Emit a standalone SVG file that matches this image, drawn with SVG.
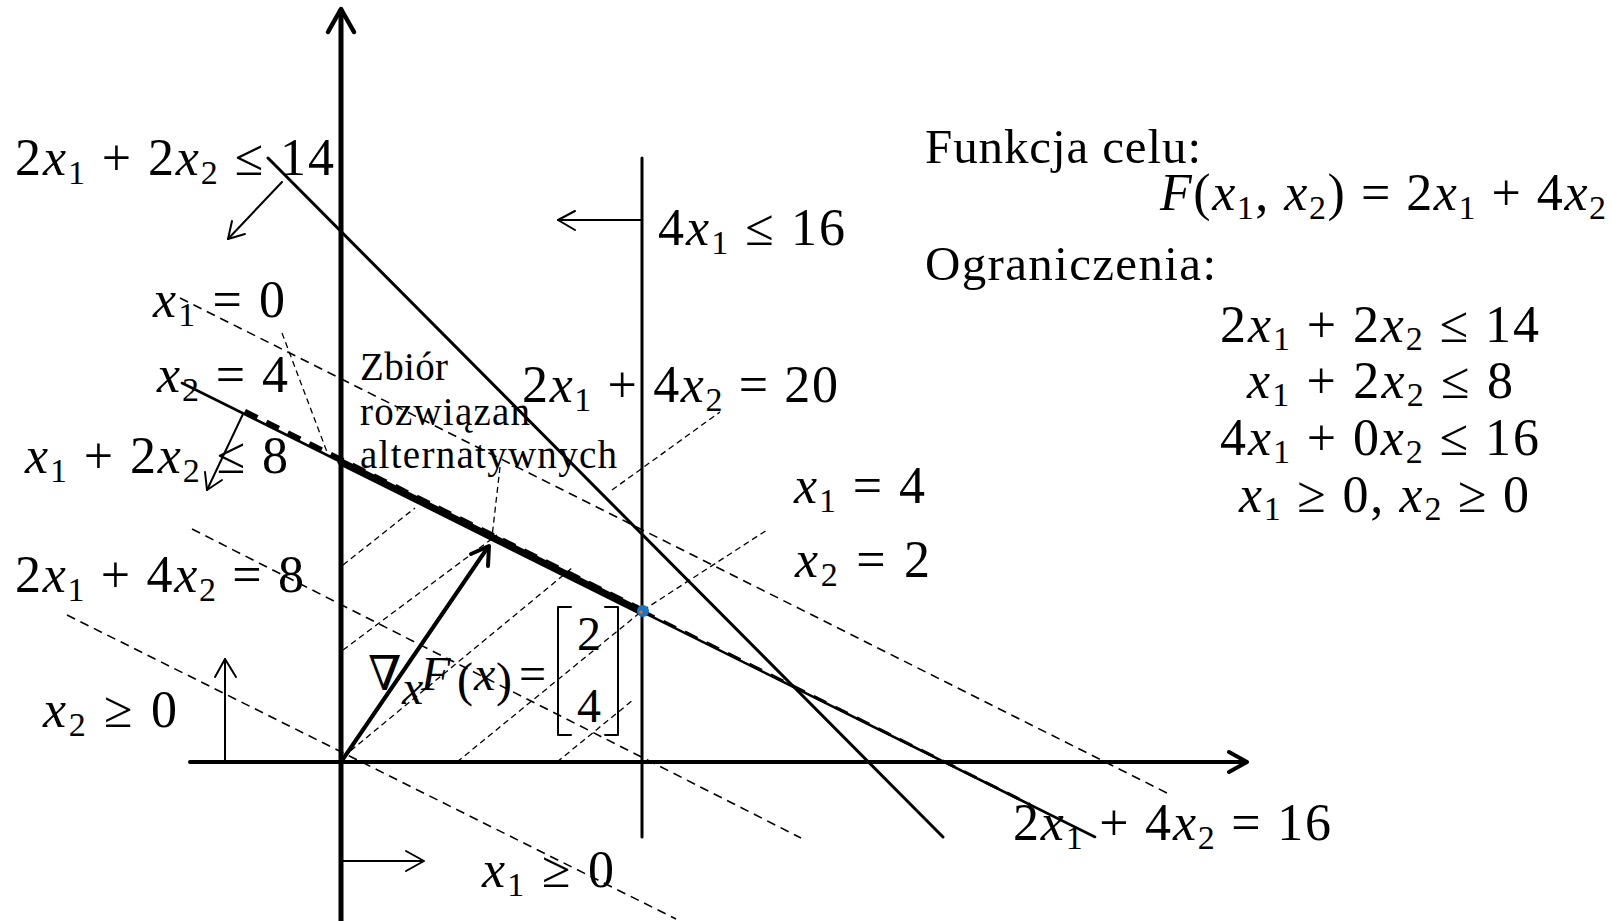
<svg xmlns="http://www.w3.org/2000/svg" width="1612" height="921" viewBox="0 0 1612 921">
<style>
.bg{fill:#fff}
.ln{stroke:#000;fill:none;stroke-linecap:round;stroke-linejoin:round}
.dl{stroke:#000;fill:none;stroke-width:1.6;stroke-dasharray:9 6}
.dh{stroke:#000;fill:none;stroke-width:1.3;stroke-dasharray:6 4}
.m{font-family:"Liberation Serif","DejaVu Serif",serif;font-size:52px;fill:#000}
.t{font-family:"Liberation Serif","DejaVu Serif",serif;font-size:49px;fill:#000}
.t2{font-family:"Liberation Serif","DejaVu Serif",serif;font-size:39px;fill:#000}
.g{font-family:"Liberation Serif","DejaVu Serif",serif;font-size:48px;fill:#000}
.v{font-style:italic}
.s{font-size:34px}
</style>
<rect class="bg" x="0" y="0" width="1612" height="921"/>

<g id="level-lines">
  <line class="dl" x1="180" y1="298" x2="1171" y2="795"/>
  <line class="dl" x1="192" y1="529" x2="801" y2="838"/>
  <line class="dl" x1="67" y1="615" x2="676" y2="919"/>
</g>

<g id="hatching">
  <line class="dh" x1="343" y1="565" x2="415" y2="508"/>
  <line class="dh" x1="343" y1="650" x2="497" y2="535"/>
  <line class="dh" x1="343" y1="757" x2="572" y2="568"/>
  <polyline class="dh" points="457,762 642,611 767,530"/>
  <line class="dh" x1="557" y1="762" x2="633" y2="700"/>
  <line class="dh" x1="612" y1="490" x2="720" y2="412"/>
  <line class="dh" x1="282" y1="333" x2="327" y2="452"/>
  <line class="dh" x1="500" y1="467" x2="492" y2="537"/>
</g>

<g id="constraints">
  <line class="ln" x1="268" y1="158" x2="943" y2="837" stroke-width="3"/>
  <line class="ln" x1="182" y1="383" x2="1095" y2="837" stroke-width="2.6"/>
  <line class="ln" x1="642" y1="158" x2="642" y2="837" stroke-width="3" stroke-linecap="butt"/>
  <line class="ln" x1="341" y1="462" x2="642" y2="612" stroke-width="7"/>
  <line x1="245" y1="411" x2="642" y2="609.5" stroke="#000" stroke-width="4.5" stroke-dasharray="14 10"/>
  <line x1="642" y1="610.5" x2="1030" y2="804.5" stroke="#000" stroke-width="3" stroke-dasharray="14 10"/>
</g>

<g id="axes">
  <line class="ln" x1="341" y1="10" x2="341" y2="921" stroke-width="5" stroke-linecap="butt"/>
  <polyline class="ln" points="328,32 341,9 354,32" stroke-width="4.5"/>
  <line class="ln" x1="190" y1="762" x2="1246" y2="762" stroke-width="4" stroke-linecap="butt"/>
  <polyline class="ln" points="1229,752 1247,762 1229,772" stroke-width="4"/>
</g>

<g id="arrows">
  <line class="ln" x1="642" y1="220" x2="558" y2="220" stroke-width="2"/>
  <polyline class="ln" points="575,211 558,220 575,230" stroke-width="2"/>
  <line class="ln" x1="282" y1="182" x2="228" y2="239" stroke-width="2"/>
  <polyline class="ln" points="245,234 228,239 232,221" stroke-width="2"/>
  <line class="ln" x1="243" y1="414" x2="207" y2="490" stroke-width="2"/>
  <polyline class="ln" points="222,480 207,490 205,472" stroke-width="2"/>
  <line class="ln" x1="225" y1="762" x2="225" y2="659" stroke-width="2"/>
  <polyline class="ln" points="215,677 225,659 236,677" stroke-width="2"/>
  <line class="ln" x1="341" y1="861" x2="423" y2="861" stroke-width="2"/>
  <polyline class="ln" points="406,851 424,861 406,871" stroke-width="2"/>
  <line class="ln" x1="341" y1="762" x2="488" y2="547" stroke-width="4"/>
  <polyline class="ln" points="471,554 489,546 488,566" stroke-width="4"/>
</g>

<g id="optimum">
  <circle cx="643" cy="611" r="6" fill="#1a75c9"/>
  <circle cx="641" cy="612" r="1.8" fill="#e07020"/>
</g>

<g id="labels">
  <text class="m" x="15" y="175" textLength="319">2<tspan class="v">x</tspan><tspan class="s" dy="9">1</tspan><tspan dy="-9"> + 2</tspan><tspan class="v">x</tspan><tspan class="s" dy="9">2</tspan><tspan dy="-9"> ≤ 14</tspan></text>
  <text class="m" x="658" y="245" textLength="187">4<tspan class="v">x</tspan><tspan class="s" dy="9">1</tspan><tspan dy="-9"> ≤ 16</tspan></text>
  <text class="m" x="153" y="317" textLength="132"><tspan class="v">x</tspan><tspan class="s" dy="9">1</tspan><tspan dy="-9"> = 0</tspan></text>
  <text class="m" x="157" y="392" textLength="131"><tspan class="v">x</tspan><tspan class="s" dy="9">2</tspan><tspan dy="-9"> = 4</tspan></text>
  <text class="m" x="25" y="473" textLength="263"><tspan class="v">x</tspan><tspan class="s" dy="9">1</tspan><tspan dy="-9"> + 2</tspan><tspan class="v">x</tspan><tspan class="s" dy="9">2</tspan><tspan dy="-9"> ≤ 8</tspan></text>
  <text class="m" x="15" y="592" textLength="289">2<tspan class="v">x</tspan><tspan class="s" dy="9">1</tspan><tspan dy="-9"> + 4</tspan><tspan class="v">x</tspan><tspan class="s" dy="9">2</tspan><tspan dy="-9"> = 8</tspan></text>
  <text class="m" x="43" y="727" textLength="134"><tspan class="v">x</tspan><tspan class="s" dy="9">2</tspan><tspan dy="-9"> ≥ 0</tspan></text>
  <text class="m" x="482" y="887" textLength="132"><tspan class="v">x</tspan><tspan class="s" dy="9">1</tspan><tspan dy="-9"> ≥ 0</tspan></text>
  <text class="m" x="522" y="402" textLength="316">2<tspan class="v">x</tspan><tspan class="s" dy="9">1</tspan><tspan dy="-9"> + 4</tspan><tspan class="v">x</tspan><tspan class="s" dy="9">2</tspan><tspan dy="-9"> = 20</tspan></text>
  <text class="m" x="794" y="503" textLength="131"><tspan class="v">x</tspan><tspan class="s" dy="9">1</tspan><tspan dy="-9"> = 4</tspan></text>
  <text class="m" x="795" y="577" textLength="135"><tspan class="v">x</tspan><tspan class="s" dy="9">2</tspan><tspan dy="-9"> = 2</tspan></text>
  <text class="m" x="1013" y="840" textLength="318">2<tspan class="v">x</tspan><tspan class="s" dy="9">1</tspan><tspan dy="-9"> + 4</tspan><tspan class="v">x</tspan><tspan class="s" dy="9">2</tspan><tspan dy="-9"> = 16</tspan></text>

  <text class="t2" x="360" y="380" textLength="88">Zbiór</text>
  <text class="t2" x="360" y="425" textLength="170">rozwiązan</text>
  <text class="t2" x="360" y="468" textLength="257">alternatywnych</text>
</g>

<g id="gradient-label">
  <text class="g" x="368" y="690" font-size="46">∇</text>
  <text class="g v" x="402" y="704" font-size="28">x</text>
  <text class="g v" x="421" y="690">F</text>
  <text class="g" x="457" y="696" font-size="66">(</text>
  <text class="g v" x="474" y="690">x</text>
  <text class="g" x="496" y="696" font-size="66">)</text>
  <text class="g" x="519" y="690">=</text>
  <path class="ln" d="M571,607 H558 V735 H571 M605,607 H618 V735 H605" stroke-width="2" stroke-linecap="butt" stroke-linejoin="miter"/>
  <text class="g" x="577" y="650" font-size="52">2</text>
  <text class="g" x="577" y="722" font-size="52">4</text>
</g>

<g id="problem">
  <text class="t" x="925" y="163" textLength="276">Funkcja celu:</text>
  <text class="m" x="1160" y="210" textLength="446"><tspan class="v">F</tspan>(<tspan class="v">x</tspan><tspan class="s" dy="9">1</tspan><tspan dy="-9">, </tspan><tspan class="v">x</tspan><tspan class="s" dy="9">2</tspan><tspan dy="-9">) = 2</tspan><tspan class="v">x</tspan><tspan class="s" dy="9">1</tspan><tspan dy="-9"> + 4</tspan><tspan class="v">x</tspan><tspan class="s" dy="9">2</tspan></text>
  <text class="t" x="925" y="280" textLength="291">Ograniczenia:</text>
  <text class="m" x="1220" y="342" textLength="319">2<tspan class="v">x</tspan><tspan class="s" dy="8">1</tspan><tspan dy="-8"> + 2</tspan><tspan class="v">x</tspan><tspan class="s" dy="8">2</tspan><tspan dy="-8"> ≤ 14</tspan></text>
  <text class="m" x="1247" y="398" textLength="266"><tspan class="v">x</tspan><tspan class="s" dy="8">1</tspan><tspan dy="-8"> + 2</tspan><tspan class="v">x</tspan><tspan class="s" dy="8">2</tspan><tspan dy="-8"> ≤ 8</tspan></text>
  <text class="m" x="1220" y="455" textLength="319">4<tspan class="v">x</tspan><tspan class="s" dy="8">1</tspan><tspan dy="-8"> + 0</tspan><tspan class="v">x</tspan><tspan class="s" dy="8">2</tspan><tspan dy="-8"> ≤ 16</tspan></text>
  <text class="m" x="1239" y="512" textLength="290"><tspan class="v">x</tspan><tspan class="s" dy="8">1</tspan><tspan dy="-8"> ≥ 0, </tspan><tspan class="v">x</tspan><tspan class="s" dy="8">2</tspan><tspan dy="-8"> ≥ 0</tspan></text>
</g>
</svg>
